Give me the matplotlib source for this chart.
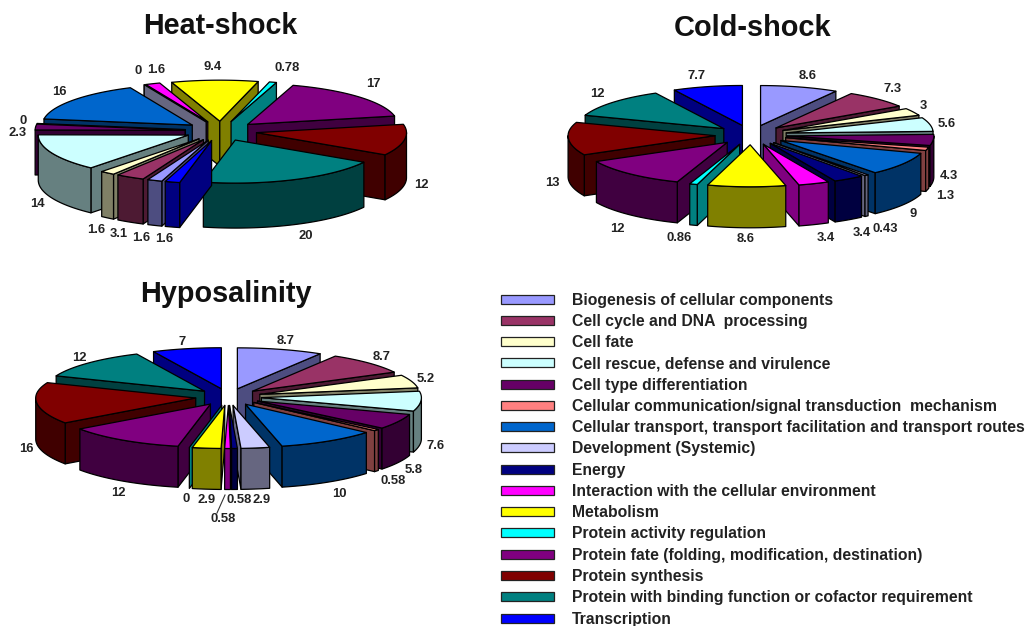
import numpy as np
import matplotlib
matplotlib.use("Agg")
import matplotlib.pyplot as plt
from matplotlib.patches import Polygon, Rectangle

plt.rcParams['font.family'] = ['Liberation Sans', 'DejaVu Sans']

categories = ["Biogenesis of cellular components", "Cell cycle and DNA  processing", "Cell fate",
              "Cell rescue, defense and virulence", "Cell type differentiation",
              "Cellular communication/signal transduction  mechanism",
              "Cellular transport, transport facilitation and transport routes",
              "Development (Systemic)", "Energy", "Interaction with the cellular environment",
              "Metabolism", "Protein activity regulation", "Protein fate (folding, modification, destination)",
              "Protein synthesis", "Protein with binding function or cofactor requirement", "Transcription"]
colors = ["#9999FF", "#993366", "#FFFFCC", "#CCFFFF", "#660066", "#FF8080", "#0066CC", "#CCCCFF",
          "#000080", "#FF00FF", "#FFFF00", "#00FFFF", "#800080", "#800000", "#008080", "#0000FF"]

heat_values = [1.6, 3.1, 1.6, 14, 2.3, 0, 16, 0, 0, 1.6, 9.4, 0.78, 17, 12, 20, 1.6]
cold_values = [8.6, 7.3, 3, 5.6, 4.3, 1.3, 9, 0.43, 3.4, 3.4, 8.6, 0.86, 12, 13, 12, 7.7]
hypo_values = [8.7, 8.7, 5.2, 7.6, 5.8, 0.58, 10, 2.9, 0.58, 0.58, 2.9, 0, 12, 16, 12, 7]

# label positions in pixels, None = no label
heat_pos = [(141, 237), (119, 233), (96, 229), (37, 203), (18, 132), (23, 120), (59, 91), (138, 70),
            None, (156, 69), (213, 66), (287, 67), (373, 83), (421, 184), (306, 235), (164, 238)]
cold_pos = [(808, 75), (893, 88), (923, 105), (947, 123), (949, 175), (945, 195), (913, 213), (885, 228),
            (862, 232), (826, 237), (746, 238), (679, 237), (617, 228), (552, 182), (597, 93), (697, 75)]
hypo_pos = [(286, 340), (382, 356), (426, 378), (436, 445), (414, 469), (393, 480), (339, 493), (262, 499),
            (239, 499), (223, 518), (207, 499), (186, 498), (118, 492), (26, 448), (79, 357), (182, 341)]


def arc(cx, cy, rx, ry, t1, t2):
    t = np.radians(np.linspace(t1, t2, max(int(abs(t2 - t1)) + 2, 2)))
    c = np.cos(t)
    # front of the pie comes out a bit deeper than the back
    return np.column_stack([cx + rx * np.sin(t), cy - ry * c * np.where(c < 0, 1.05, 1.0)])


def draw_pie(ax, values, start, cx, cy, rx, ry, ex, h, pos):
    total = sum(values)
    angles = start + np.cumsum([0] + values) * 360.0 / total
    mids = (angles[:-1] + angles[1:]) / 2
    # back slices first; for ties the later slice goes first
    order = sorted(range(len(values)), key=lambda i: (-np.cos(np.radians(mids[i])), -i))
    for i in order:
        t1, t2 = angles[i], angles[i + 1]
        m = np.radians(mids[i])
        x0 = cx + ex * np.sin(m)
        y0 = cy - ex * (ry / rx) * np.cos(m)
        rgb = np.array(matplotlib.colors.to_rgb(colors[i]))
        dark = rgb * 0.5
        edge = dict(edgecolor="black", linewidth=0.9, joinstyle="round")
        apex = np.array([[x0, y0]])
        # radial walls
        for t, sign in ((t1, -1), (t2, 1)):
            if sign * np.sin(np.radians(t)) > 1e-6:
                p = arc(x0, y0, rx, ry, t, t)[:1]
                wall = np.array([apex[0], p[0], p[0] + [0, h], apex[0] + [0, h]])
                ax.add_patch(Polygon(wall, facecolor=dark, **edge))
        # outer wall, front half only
        for lo, hi in ((90, 270), (450, 630)):
            a, b = max(t1, lo), min(t2, hi)
            if b > a:
                top = arc(x0, y0, rx, ry, a, b)
                wall = np.vstack([top, top[::-1] + [0, h]])
                ax.add_patch(Polygon(wall, facecolor=dark, **edge))
        if t2 > t1:
            ax.add_patch(Polygon(np.vstack([apex, arc(x0, y0, rx, ry, t1, t2)]), facecolor=rgb, **edge))
    for v, p in zip(values, pos):
        if p is not None:
            ax.text(p[0], p[1] + 1, f"{v:g}", ha="center", va="center", fontsize=9.4, fontweight="bold", color="#222222")


fig = plt.figure(figsize=(10.29, 6.26), dpi=100)
ax = fig.add_axes([0, 0, 1, 1])
ax.set_xlim(0, 1029)
ax.set_ylim(626, 0)
ax.axis("off")

draw_pie(ax, heat_values, 198, 221, 131, 150, 41, 36, 45, heat_pos)
draw_pie(ax, cold_values, 0, 751, 135, 147, 40, 36, 41, cold_pos)
draw_pie(ax, hypo_values, 0, 228.5, 397, 160, 41, 33, 41, hypo_pos)
ax.plot([225, 217], [495, 513], color="#333333", lw=0.8)

ax.text(220, 26.5, "Heat-shock", ha="center", va="center", fontsize=20.6, fontweight="bold", color="#111111")
ax.text(753, 28.5, "Cold-shock", ha="center", va="center", fontsize=20.9, fontweight="bold", color="#111111")
ax.text(226, 294.5, "Hyposalinity", ha="center", va="center", fontsize=20.8, fontweight="bold", color="#111111")

# legend
for i, (name, c) in enumerate(zip(categories, colors)):
    y = 299 + i * 21.27
    ax.add_patch(Rectangle((501, y - 4.5), 53, 9, facecolor=c, edgecolor="#222222", linewidth=0.9))
    ax.text(572, y + 1, name, ha="left", va="center", fontsize=11.3, fontweight="bold", color="#222222")

fig.savefig("out.png", dpi=100)
